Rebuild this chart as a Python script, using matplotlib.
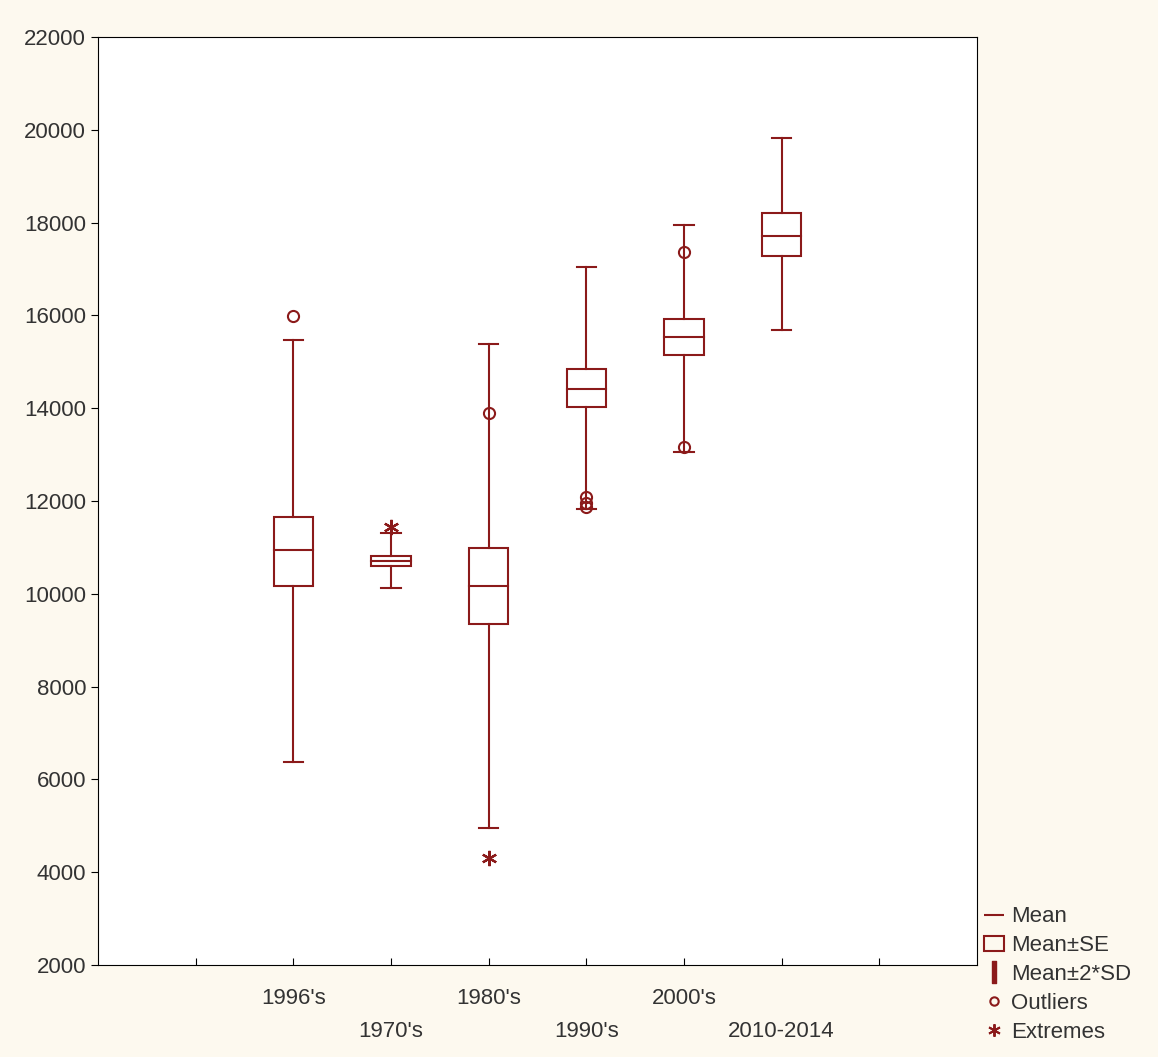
import numpy as np
import matplotlib.pyplot as plt
from matplotlib.lines import Line2D
from matplotlib.patches import Rectangle

labels = ["1996's", "1970's", "1980's", "1990's", "2000's", "2010-2014"]
means = [10940, 10700, 10170, 14410, 15530, 17710]
se_hi = [11650, 10810, 10990, 14840, 15920, 18200]
se_lo = [10170, 10600, 9350, 14030, 15150, 17280]
sd_hi = [15470, 11310, 15380, 17040, 17950, 19820]
sd_lo = [6370, 10125, 4950, 11830, 13060, 15690]
outliers = [[15990], [], [13900], [12080, 11950, 11870], [17370, 13160], []]
extremes = [[], [11440], [4310], [], [], []]

col = '#8b1a1a'
fnt = 'Liberation Sans'
fig = plt.figure(figsize=(11.58, 10.57), dpi=100, facecolor='#fdf9ef')
ax = fig.add_axes([98/1158, 1-965/1057, 879/1158, 928/1057])
ax.set_facecolor('white')

pos = np.arange(2, 8)
bw = 0.4
cw = 0.2
for i, x in enumerate(pos):
    ax.add_patch(Rectangle((x-bw/2, se_lo[i]), bw, se_hi[i]-se_lo[i], fill=False, ec=col, lw=1.5))
    ax.plot([x-bw/2, x+bw/2], [means[i]]*2, color=col, lw=1.5)
    ax.plot([x, x], [se_hi[i], sd_hi[i]], color=col, lw=1.5)
    ax.plot([x, x], [se_lo[i], sd_lo[i]], color=col, lw=1.5)
    for yy in (sd_hi[i], sd_lo[i]):
        ax.plot([x-cw/2, x+cw/2], [yy]*2, color=col, lw=1.5)
    if outliers[i]:
        ax.plot([x]*len(outliers[i]), outliers[i], 'o', mfc='none', mec=col, ms=8, mew=1.5)
    if extremes[i]:
        ax.plot([x]*len(extremes[i]), extremes[i], marker=(6, 2, 0), ls='none', color=col, ms=11, mew=1.6)

ax.set_xlim(0, 9)
ax.set_ylim(2000, 22000)
ax.set_yticks(np.arange(2000, 22001, 2000))
ax.set_xticks(np.arange(1, 9))
ax.set_xticklabels([''] * 8)
for i, x in enumerate(pos):
    ax.text(x, 1500 if i % 2 == 0 else 800, labels[i], ha='center', va='top',
            fontsize=16, color='#333333', family=fnt)
ax.tick_params(axis='y', labelsize=16, labelcolor='#333333', direction='out', length=5)
ax.tick_params(axis='x', direction='in', length=5)
for lab in ax.get_yticklabels():
    lab.set_family(fnt)
for s in ax.spines.values():
    s.set_color('black')

handles = [
    Line2D([], [], color=col, lw=1.5, marker='_', ls='none', ms=14, mew=1.5),
    Rectangle((0, 0), 1, 1, fill=False, ec=col, lw=1.5),
    Line2D([], [], color=col, marker='$\\mathrm{I}$', ls='none', ms=16),
    Line2D([], [], marker='o', mfc='none', mec=col, ls='none', ms=6, mew=1.5),
    Line2D([], [], marker=(6, 2, 0), color=col, ls='none', ms=9, mew=1.4),
]
fig.legend(handles, ['Mean', 'Mean±SE', 'Mean±2*SD', 'Outliers', 'Extremes'],
           loc='lower left', bbox_to_anchor=(980/1158, 10/1057), frameon=False,
           prop={'family': fnt, 'size': 16}, handlelength=0.9,
           handletextpad=0.3, labelspacing=0.35, borderaxespad=0, borderpad=0.2,
           labelcolor='#333333')

fig.savefig('out.png', dpi=100, facecolor=fig.get_facecolor())
